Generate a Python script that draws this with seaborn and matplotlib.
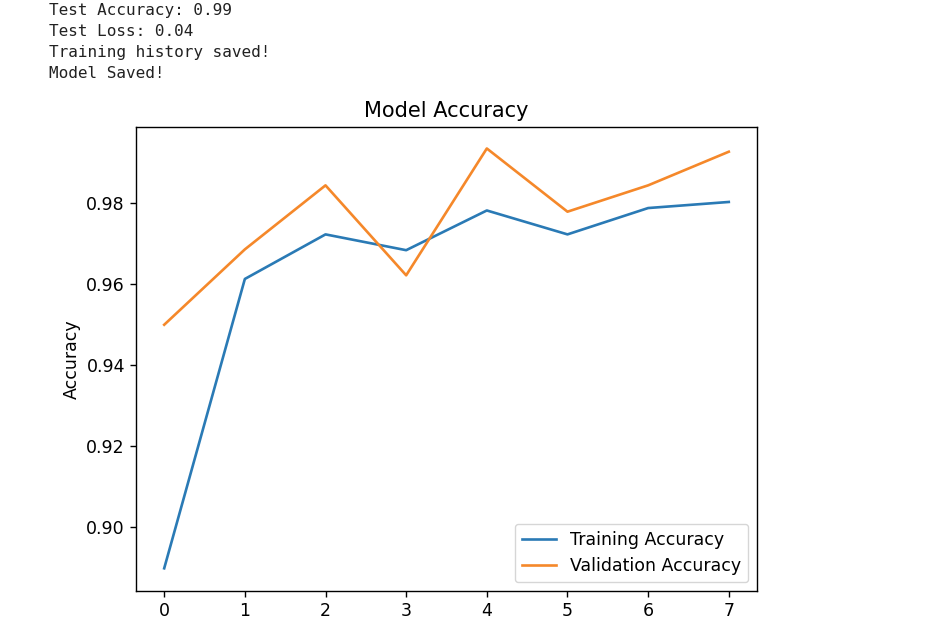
import matplotlib
matplotlib.use("Agg")
import matplotlib.pyplot as plt
import seaborn as sns
import pandas as pd

epochs = [0, 1, 2, 3, 4, 5, 6, 7]
train_acc = [0.8899, 0.9613, 0.9723, 0.9684, 0.9782, 0.9723, 0.9788, 0.9803]
val_acc = [0.9500, 0.9686, 0.9844, 0.9622, 0.9935, 0.9779, 0.9844, 0.9927]
log_lines = ["Test Accuracy: 0.99", "Test Loss: 0.04", "Training history saved!", "Model Saved!"]

df = pd.DataFrame({
    "epoch": epochs * 2,
    "acc": train_acc + val_acc,
    "series": ["Training Accuracy"] * len(epochs) + ["Validation Accuracy"] * len(epochs),
})

plt.rcParams["font.family"] = ["DejaVu Sans"]
fig = plt.figure(figsize=(9.39, 6.21), dpi=100)
ax = fig.add_axes([0.1448, 0.0483, 0.6614, 0.7472])

sns.lineplot(data=df, x="epoch", y="acc", hue="series",
             palette=["#2a7ab5", "#f5882a"], linewidth=1.9, ax=ax)

ax.set_xlim(-0.35, 7.35)
ax.set_ylim(0.8843, 0.9988)
ax.set_xticks(epochs)
ax.set_yticks([0.90, 0.92, 0.94, 0.96, 0.98])
ax.set_yticklabels(["0.90", "0.92", "0.94", "0.96", "0.98"])
ax.tick_params(labelsize=12.5, length=4.4, width=1.0)
ax.set_xlabel("")
ax.set_ylabel("Accuracy", fontsize=12.5)
ax.set_title("Model Accuracy", fontsize=15, pad=7)
for s in ax.spines.values():
    s.set_linewidth(1.0)

leg = ax.legend(loc="lower right", fontsize=12.5, title=None, handlelength=2.0)
leg.get_frame().set_linewidth(1.0)

for i, line in enumerate(log_lines):
    fig.text(49 / 939, 1 - (10 + i * 21.3) / 621, line, fontsize=11.5,
             family="DejaVu Sans Mono", va="center", ha="left", color="#222222")

fig.savefig("out.png", dpi=100)
